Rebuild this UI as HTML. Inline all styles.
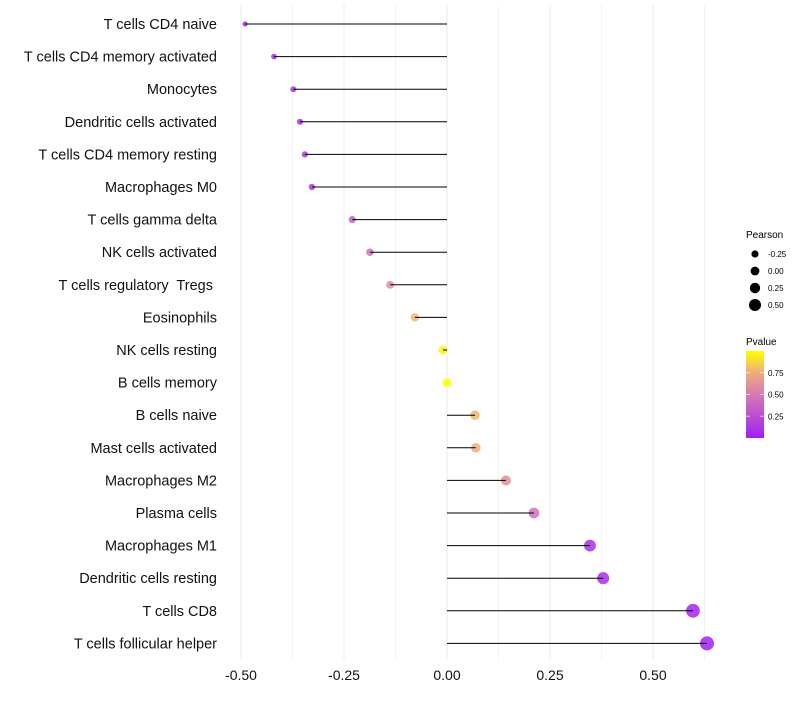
<!DOCTYPE html>
<html><head><meta charset="utf-8"><style>
body{margin:0;background:#fff;font-family:"Liberation Sans",sans-serif}
text{white-space:pre}
</style></head><body>
<svg id="chart" width="800" height="700" xmlns="http://www.w3.org/2000/svg" font-family="Liberation Sans, sans-serif"></svg>
<script>
const categories=["T cells CD4 naive","T cells CD4 memory activated","Monocytes","Dendritic cells activated","T cells CD4 memory resting","Macrophages M0","T cells gamma delta","NK cells activated","T cells regulatory  Tregs ","Eosinophils","NK cells resting","B cells memory","B cells naive","Mast cells activated","Macrophages M2","Plasma cells","Macrophages M1","Dendritic cells resting","T cells CD8","T cells follicular helper"];
const pearson=[-0.49,-0.42,-0.373,-0.357,-0.345,-0.328,-0.23,-0.187,-0.138,-0.078,-0.01,0.0,0.068,0.07,0.143,0.211,0.347,0.379,0.597,0.631];
const pvalue=[0.03,0.05,0.1,0.11,0.12,0.14,0.35,0.45,0.6,0.78,0.97,1.0,0.78,0.76,0.62,0.45,0.08,0.07,0.02,0.01];
const xTicks=[-0.5,-0.25,0,0.25,0.5];
const xTickLabels=["-0.50","-0.25","0.00","0.25","0.50"];
const sizeLegend=[-0.25,0,0.25,0.5];
const sizeLegendLabels=["-0.25","0.00","0.25","0.50"];
const colorTicks=[0.25,0.5,0.75];
const colorTickLabels=["0.25","0.50","0.75"];

const NS="http://www.w3.org/2000/svg";
const svg=document.getElementById('chart');
const x=v=>447+v*412;
const y=i=>24+i*32.6;
const r=v=>4.5+4*v;
const stops=[[0,[160,32,240]],[0.5,[214,122,178]],[0.75,[238,172,126]],[1,[255,255,0]]];
function col(p){for(let k=1;k<stops.length;k++){if(p<=stops[k][0]){const a=stops[k-1],b=stops[k],t=(p-a[0])/(b[0]-a[0]);return 'rgb('+a[1].map((c,j)=>Math.round(c+(b[1][j]-c)*t)).join(',')+')';}}return 'rgb(255,255,0)';}
function el(t,a,parent){const e=document.createElementNS(NS,t);for(const k in a)e.setAttribute(k,a[k]);(parent||svg).appendChild(e);return e;}

for(let v=-0.5;v<=0.625;v+=0.125){
  const g=el('line',{x1:x(v),x2:x(v),y1:5,y2:660,stroke:'#ebebeb','stroke-width':Math.abs(v*4-Math.round(v*4))<1e-6?1:0.6});
  
  
}
xTicks.forEach((v,i)=>{
  const t=el('text',{x:x(v),y:680,'text-anchor':'middle','font-size':14,fill:'#111'});
  t.textContent=xTickLabels[i];
  
  
});
categories.forEach((c,i)=>{
  const t=el('text',{x:217,y:y(i)+5,'text-anchor':'end','font-size':14.5,fill:'#111'});
  t.textContent=c;
  
  
  const p=el('circle',{cx:x(pearson[i]),cy:y(i),r:r(pearson[i]),fill:col(pvalue[i]),'fill-opacity':0.85});
  
  
  const l=el('line',{x1:x(0),x2:x(pearson[i]),y1:y(i),y2:y(i),stroke:'#000','stroke-width':1});
  
  
});
const lt=el('text',{x:746,y:238,'font-size':10,fill:'#000'});lt.textContent='Pearson';


sizeLegend.forEach((v,i)=>{
  const cy=254+i*17;
  const c=el('circle',{cx:755,cy:cy,r:r(v)*0.8+0.8,fill:'#000'});
  
  
  const t=el('text',{x:768,y:cy+3,'font-size':8,fill:'#000'});t.textContent=sizeLegendLabels[i];
  
  
});
const ct=el('text',{x:746,y:345,'font-size':10,fill:'#000'});ct.textContent='Pvalue';


const defs=el('defs',{});
const lg=el('linearGradient',{id:'pg',x1:0,y1:1,x2:0,y2:0},defs);
stops.forEach(s=>el('stop',{offset:s[0],'stop-color':'rgb('+s[1].join(',')+')'},lg));
const bar=el('rect',{x:746,y:351,width:18,height:87,fill:'url(#pg)'});


colorTicks.forEach((v,i)=>{
  const yy=438-v*87;
  el('line',{x1:746,x2:750,y1:yy,y2:yy,stroke:'#fff','stroke-opacity':0.6});
  el('line',{x1:760,x2:764,y1:yy,y2:yy,stroke:'#fff','stroke-opacity':0.6});
  const t=el('text',{x:768,y:yy+3,'font-size':8,fill:'#000'});t.textContent=colorTickLabels[i];
  
  
});
</script>
</body></html>
